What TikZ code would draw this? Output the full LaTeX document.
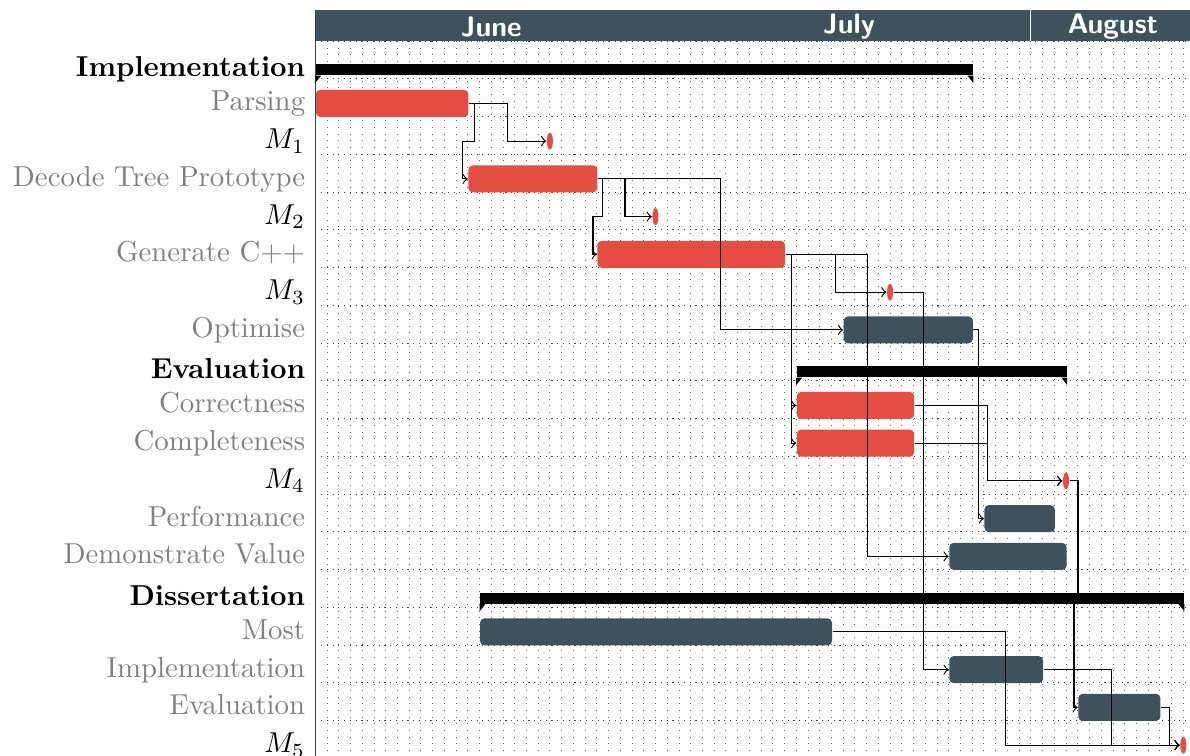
\documentclass[tikz,border=0pt]{standalone}
\usetikzlibrary{shapes.geometric}

\definecolor{ganttred}{RGB}{229,77,66}
\definecolor{ganttdark}{RGB}{61,82,93}
\newcommand{\dayw}{4.073pt}
\newcommand{\rowh}{13.108pt}

\begin{document}
\begin{tikzpicture}[x=\dayw, y=-\rowh, >=to,
    every node/.style={font=\normalsize},
    task/.style={anchor=west, fill=ganttred, rounded corners=1.5pt, inner sep=0pt, minimum height=9.4pt},
    late/.style={task, fill=ganttdark},
    group/.style={anchor=west, fill=black, inner sep=0pt, minimum height=3.8pt},
    mile/.style={ellipse, fill=ganttred, inner sep=0pt, minimum width=2.1pt, minimum height=5.9pt},
    lbl/.style={anchor=base east, text=black!50},
    glbl/.style={anchor=base east, font=\bfseries},
    mlbl/.style={anchor=base east},
    month/.style={text=white, font=\sffamily\bfseries\fontsize{9.8}{11}\selectfont},
    vgrid/.style={black!60, line width=0.3pt, dotted},
    hgrid/.style={black!75, line width=0.3pt, dash pattern=on 0.4pt off 1.6pt},
    link/.style={->, line width=0.4pt, black}]

    \useasboundingbox (-26.88,-1.086) rectangle (74.57,18.914);

    % --- 1. 格子 ---
    \foreach \d in {1,...,75}
        \draw[vgrid] (\d,0) -- (\d,19);
    \foreach \r in {0,...,19}
        \draw[hgrid] (0,\r) -- (75,\r);

    % --- 2. 見出し (月) ---
    \fill[ganttdark] (0,-0.821) rectangle (75,0);
    \draw[white, line width=0.4pt] (61,-0.821) -- (61,0);
    \node[month] (june)   at (15,-0.38)   {June};
    \node[month] (july)   at (45.5,-0.38) {July};
    \node[month] (august) at (68,-0.38)   {August};
    \draw[black!75, line width=0.5pt] (0,-0.821) -- (0,19);

    % --- 3. 行ラベル ---
    \node[glbl] (l-impl)  at (0,0.945)  {Implementation};
    \node[lbl]  (l-parse) at (0,1.854)  {Parsing};
    \node[mlbl] (l-m1)    at (0,2.854)  {$M_1$};
    \node[lbl]  (l-dec)   at (0,3.854)  {Decode Tree Prototype};
    \node[mlbl] (l-m2)    at (0,4.854)  {$M_2$};
    \node[lbl]  (l-gen)   at (0,5.854)  {Generate C++};
    \node[mlbl] (l-m3)    at (0,6.854)  {$M_3$};
    \node[lbl]  (l-opt)   at (0,7.854)  {Optimise};
    \node[glbl] (l-eval)  at (0,8.945)  {Evaluation};
    \node[lbl]  (l-corr)  at (0,9.854)  {Correctness};
    \node[lbl]  (l-comp)  at (0,10.854) {Completeness};
    \node[mlbl] (l-m4)    at (0,11.854) {$M_4$};
    \node[lbl]  (l-perf)  at (0,12.854) {Performance};
    \node[lbl]  (l-demo)  at (0,13.854) {Demonstrate Value};
    \node[glbl] (l-diss)  at (0,14.945) {Dissertation};
    \node[lbl]  (l-most)  at (0,15.854) {Most};
    \node[lbl]  (l-dimpl) at (0,16.854) {Implementation};
    \node[lbl]  (l-deval) at (0,17.854) {Evaluation};
    \node[mlbl] (l-m5)    at (0,18.854) {$M_5$};

    % --- 4. グループ (黒い帯) ---
    \node[group, minimum width=56*\dayw] (g-impl) at (0,0.76)  {};
    \node[group, minimum width=23*\dayw] (g-eval) at (41,8.76) {};
    \node[group, minimum width=60*\dayw] (g-diss) at (14,14.76) {};
    \foreach \g in {g-impl, g-eval, g-diss} {
        \fill (\g.south west) -- ++(0,0.19) -- ++(0.5,-0.19) -- cycle;
        \fill (\g.south east) -- ++(0,0.19) -- ++(-0.5,-0.19) -- cycle;
    }

    % --- 5. 作業 (帯) ---
    \node[task, minimum width=13*\dayw] (parse) at (0,1.653)  {};
    \node[task, minimum width=11*\dayw] (dec)   at (13,3.653) {};
    \node[task, minimum width=16*\dayw] (gen)   at (24,5.653) {};
    \node[late, minimum width=11*\dayw] (opt)   at (45,7.653) {};
    \node[task, minimum width=10*\dayw] (corr)  at (41,9.653) {};
    \node[task, minimum width=10*\dayw] (comp)  at (41,10.653) {};
    \node[late, minimum width=6*\dayw]  (perf)  at (57,12.653) {};
    \node[late, minimum width=10*\dayw] (demo)  at (54,13.653) {};
    \node[late, minimum width=30*\dayw] (most)  at (14,15.653) {};
    \node[late, minimum width=8*\dayw]  (dimpl) at (54,16.653) {};
    \node[late, minimum width=7*\dayw]  (deval) at (65,17.653) {};

    % マイルストーン
    \node[mile] (m1) at (20,2.653)  {};
    \node[mile] (m2) at (29,4.653)  {};
    \node[mile] (m3) at (49,6.653)  {};
    \node[mile] (m4) at (64,11.653) {};
    \node[mile] (m5) at (74,18.653) {};

    % --- 6. 依存関係 (矢印) ---
    \draw[link] (parse.east) -- ++(3.3,0) |- (m1.west);
    \draw[link] (parse.east) -- ++(0.47,0) -- ++(0,1) -- ++(-1,0) |- (dec.west);
    \draw[link] (dec.east) -- ++(2.3,0) |- (m2.west);
    \draw[link] (dec.east) -- ++(0.42,0) -- ++(0,1) -- ++(-0.85,0) |- (gen.west);
    \draw[link] (dec.east) -- ++(10.43,0) |- (opt.west);
    \draw[link] (gen.east) -- ++(4.25,0) |- (m3.west);
    \draw[link] (gen.east) -- ++(0.47,0) |- (corr.west);
    \draw[link] (gen.east) -- ++(0.47,0) |- (comp.west);
    \draw[link] (gen.east) -- ++(6.95,0) |- (demo.west);
    \draw[link] (m3.east) -- ++(2.57,0) |- (dimpl.west);
    \draw[link] (opt.east) -- ++(0.44,0) |- (perf.west);
    \draw[link] (corr.east) -- ++(6.2,0) |- (m4.west);
    \draw[link] (comp.east) -- ++(6.2,0) |- (m4.west);
    \draw[link] (m4.east) -- ++(0.72,0) -- ++(0,3) -- ++(-0.35,0) |- (deval.west);
    \draw[link] (most.east) -- ++(14.74,0) |- (m5.west);
    \draw[link] (dimpl.east) -- ++(5.78,0) |- (m5.west);
    \draw[link] (deval.east) -- ++(0.72,0) |- (m5.west);

\end{tikzpicture}
\end{document}
